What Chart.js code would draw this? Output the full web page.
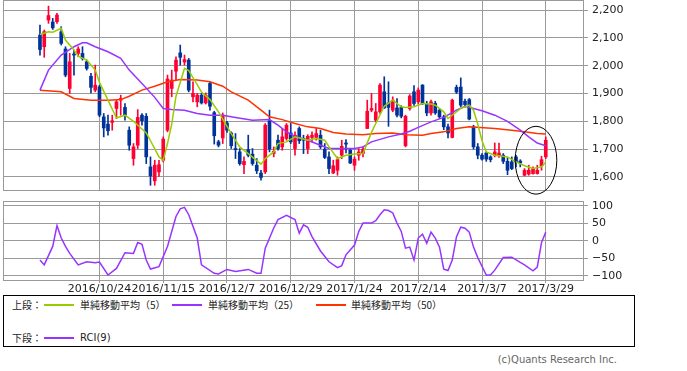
<!DOCTYPE html>
<html lang="ja">
<head>
<meta charset="utf-8">
<title>株価チャート</title>
<script src="https://cdn.jsdelivr.net/npm/chart.js@4.4.1/dist/chart.umd.min.js"></script>
<style>
  body { margin: 0; background: #fff; }
  #page { position: relative; width: 687px; height: 371px; overflow: hidden; font-family: "DejaVu Sans", sans-serif; }
  #mainBox { position: absolute; left: 0; top: 0; width: 687px; height: 195px; }
  #rciBox { position: absolute; left: 0; top: 195px; width: 687px; height: 100px; }
  #legend { position: absolute; left: 3px; top: 295px; width: 630px; height: 50px; border: 1px solid #000;
            font-family: "Noto Sans CJK JP", sans-serif; font-size: 10px; color: #222; }
  .row { position: absolute; left: 8px; width: 600px; height: 14px; line-height: 14px; white-space: nowrap; }
  .txt { position: absolute; top: 0; }
  .swatch { position: absolute; top: 6px; width: 30px; height: 2px; }
  #copy { position: absolute; right: 70px; top: 354px; font-size: 10px; color: #666; font-family: "DejaVu Sans", sans-serif; }
</style>
</head>
<body>
<div id="page">
  <div id="mainBox"><canvas id="mainChart"></canvas></div>
  <div id="rciBox"><canvas id="rciChart"></canvas></div>
  <div id="legend">
    <div class="row" style="top:2px">
      <div class="txt" style="left:0">上段：</div>
      <div class="swatch" style="left:32px;background-color:#99CC00"></div>
      <div class="txt" style="left:68px">単純移動平均（5）</div>
      <div class="swatch" style="left:160px;background-color:#9933FF"></div>
      <div class="txt" style="left:196px">単純移動平均（25）</div>
      <div class="swatch" style="left:304px;background-color:#FF3300"></div>
      <div class="txt" style="left:339px">単純移動平均（50）</div>
    </div>
    <div class="row" style="top:35px">
      <div class="txt" style="left:0">下段：</div>
      <div class="swatch" style="left:32px;background-color:#9933FF"></div>
      <div class="txt" style="left:68px;font-family:'DejaVu Sans',sans-serif">RCI(9)</div>
    </div>
  </div>
  <div id="copy">(c)Quants Research Inc.</div>
</div>

<script>
// daily candles, 2016/10/3 .. 2017/3/29 (index 0..119)
const opens = [2110,2068,2164,2157,2158,2122,2060,1918,2042,2044,2044,2014,1962,1912,1924,1816,1790,1796,1846,1876,
  1850,1768,1666,1714,1822,1818,1636,1586,1618,1660,1768,1918,1980,2046,2013,2020,1888,1870,1894,1866,
  1936,1831,1726,1740,1794,1758,1702,1690,1644,1698,1682,1642,1614,1618,1802,1684,1732,1708,1738,1758,
  1702,1774,1738,1702,1742,1742,1750,1700,1672,1614,1624,1678,1722,1696,1642,1678,1684,1774,1840,1804,
  1834,1906,1866,1840,1848,1850,1712,1846,1906,1870,1930,1864,1830,1864,1840,1816,1780,1742,1922,1923,
  1872,1878,1780,1708,1678,1686,1672,1678,1676,1678,1656,1654,1672,1657,1606,1610,1612,1612,1640,1672]
const highs = [2146,2128,2214,2170,2188,2140,2068,2044,2056,2068,2068,2020,1972,2002,1930,1828,1822,1822,1876,1894,
  1864,1780,1720,1842,1828,1828,1672,1660,1660,1744,1966,1984,2032,2074,2038,2026,1942,1900,1900,1902,
  1942,1836,1732,1830,1800,1762,1756,1702,1672,1750,1702,1666,1624,1792,1840,1708,1750,1774,1792,1792,
  1762,1780,1750,1752,1762,1774,1768,1720,1690,1660,1672,1732,1734,1702,1672,1702,1708,1876,1900,1864,
  1936,1960,1942,1888,1882,1856,1822,1896,1928,1920,1932,1872,1876,1872,1846,1822,1790,1880,1930,1956,
  1880,1882,1786,1720,1684,1690,1676,1722,1722,1684,1668,1672,1678,1662,1630,1642,1636,1642,1674,1744]
const lows = [2038,2030,2152,2130,2152,2074,1960,1900,1966,2032,2020,1984,1902,1906,1816,1744,1750,1768,1810,1822,
  1804,1696,1642,1702,1786,1648,1570,1570,1602,1654,1762,1888,1948,2002,2002,1906,1870,1852,1862,1862,
  1840,1718,1708,1720,1760,1702,1666,1642,1612,1672,1642,1612,1588,1612,1690,1672,1696,1696,1732,1720,
  1678,1720,1684,1684,1726,1732,1702,1666,1612,1612,1606,1666,1686,1648,1624,1660,1672,1774,1834,1798,
  1828,1846,1782,1834,1816,1812,1708,1840,1857,1862,1860,1820,1822,1825,1810,1770,1740,1740,1900,1852,
  1850,1805,1700,1665,1660,1656,1654,1672,1670,1648,1608,1626,1636,1636,1604,1606,1610,1610,1624,1666]
const closes = [2058,2122,2180,2136,2182,2080,1966,2014,2038,2060,2026,1990,1922,1930,1822,1776,1766,1802,1870,1882,
  1822,1714,1708,1814,1802,1672,1604,1642,1644,1736,1952,1948,2020,2030,2022,1912,1900,1894,1866,1894,
  1854,1748,1714,1822,1768,1712,1698,1648,1656,1678,1648,1622,1598,1786,1700,1692,1702,1744,1786,1726,
  1750,1730,1732,1746,1750,1756,1708,1670,1630,1640,1662,1710,1718,1650,1664,1690,1700,1836,1846,1834,
  1930,1848,1850,1876,1822,1818,1818,1891,1864,1912,1864,1830,1870,1830,1816,1780,1758,1876,1905,1858,
  1860,1808,1708,1678,1664,1664,1662,1690,1686,1656,1624,1630,1654,1650,1624,1624,1630,1624,1662,1732]

// moving averages, read at these candle indices
const ma5At = [0,2,3,5,6,8,9,11,13,14,16,18,20,22,25,26,28,29,30,31,32,34,35,37,38,40,42,44,45,47,49,52,53,55,56,58,60,
  63,65,67,68,70,72,74,76,78,79,81,83,85,86,88,90,92,93,95,96,99,101,102,103,104,105,107,110,112,114,116,118,119]
const ma5 = [2112,2122,2120,2134,2092,2056,2034,2020,1984,1940,1876,1812,1822,1800,1758,1730,1672,1660,1720,1790,1890,1990,1982,1932,1905,1878,1834,1782,1756,1708,1684,1646,1666,1690,1720,1726,1744,
  1732,1738,1732,1708,1666,1678,1682,1684,1760,1792,1854,1876,1852,1850,1852,1864,1862,1858,1834,1810,1846,1858,1840,1790,1730,1690,1678,1672,1654,1640,1630,1636,1654]
const ma25At = [0,2,5,8,10,11,13,16,19,21,24,27,29,31,34,37,40,43,46,50,54,56,58,60,63,66,68,71,74,76,78,82,85,87,89,92,95,98,100,102,104,107,110,113,115,117,119]
const ma25 = [1912,1984,2038,2068,2082,2082,2068,2050,2026,1984,1936,1886,1846,1842,1840,1828,1822,1822,1814,1804,1806,1786,1762,1746,1732,1714,1702,1702,1702,1708,1726,1744,1754,1764,1778,1798,1814,1840,1854,1846,1838,1822,1800,1768,1744,1722,1712]
const ma50At = [0,5,8,12,16,19,21,24,27,30,33,37,40,43,45,49,52,54,57,60,63,66,69,72,76,79,83,86,90,92,95,98,101,107,111,114,117,119]
const ma50 = [1912,1906,1882,1876,1876,1878,1890,1912,1926,1942,1950,1948,1942,1926,1906,1876,1840,1816,1806,1792,1780,1774,1760,1754,1752,1756,1758,1752,1750,1756,1762,1774,1780,1774,1768,1762,1756,1754]

// RCI(9)
const rciAt = [0,1,3,4,5,6,7,9,11,13,14,16,18,20,22,23,24,25,26,28,30,32,33,34,35,37,38,41,42,44,46,49,51,52,53,55,56,58,60,61,62,63,64,66,68,70,71,72,
  74,75,76,78,79,80,81,82,83,84,85,86,87,88,89,90,91,92,93,94,95,96,97,98,99,100,101,102,103,105,106,107,109,111,113,114,116,117,118,119]
const rci = [-55,-69,-16,44,8,-16,-36,-69,-60,-63,-61,-98,-79,-34,-36,-5,-10,-55,-81,-74,-16,70,92,96,75,8,-69,-93,-95,-82,-88,-82,-93,-93,-21,37,61,73,61,22,46,39,12,-29,-60,-77,-71,-40,
  -12,27,51,51,58,75,89,87,80,51,27,-21,-18,-55,8,19,-7,25,8,-18,-81,-85,-55,12,39,36,25,-18,-48,-98,-98,-84,-48,-47,-62,-69,-86,-75,-5,25]

const tickAt = [14, 29, 44, 59, 74, 89, 104, 119]
const tickLabels = ["2016/10/24", "2016/11/15", "2016/12/7", "2016/12/29", "2017/1/24", "2017/2/14", "2017/3/7", "2017/3/29"]
const priceTicks = [1600, 1700, 1800, 1900, 2000, 2100, 2200]
const rciTicks = [-100, -50, 0, 50, 100]

// hand-drawn ellipse around the last candles
const mark = { at: 116.7, price: 1660, halfIdx: 4.9, halfPrice: 122 }

const UP = "#FF0033"
const DOWN = "#003399"
const GRID = "#9a9a9a"
const X_MIN = -8.7
const X_MAX = 127.76

const pts = (xs, ys) => xs.map((x, k) => ({ x: x, y: ys[k] }))
const candleColor = (ctx) => closes[ctx.dataIndex] >= opens[ctx.dataIndex] ? UP : DOWN

// gray frame round the plot area
const framePlugin = {
  id: "frame",
  afterDraw(chart) {
    const a = chart.chartArea
    const ctx = chart.ctx
    ctx.save()
    ctx.strokeStyle = GRID
    ctx.lineWidth = 1
    ctx.strokeRect(Math.round(a.left) + 0.5, Math.round(a.top) + 0.5, Math.round(a.right - a.left), Math.round(a.bottom - a.top))
    ctx.restore()
  },
}

const ellipsePlugin = {
  id: "ellipseMark",
  afterDraw(chart) {
    const x = chart.scales.x
    const y = chart.scales.y
    const cx = x.getPixelForValue(mark.at)
    const cy = y.getPixelForValue(mark.price)
    const rx = x.getPixelForValue(mark.at + mark.halfIdx) - cx
    const ry = cy - y.getPixelForValue(mark.price + mark.halfPrice)
    const ctx = chart.ctx
    ctx.save()
    ctx.strokeStyle = "#000"
    ctx.lineWidth = 1
    ctx.beginPath()
    ctx.ellipse(cx, cy, rx, ry, 0, 0, Math.PI * 2)
    ctx.stroke()
    ctx.restore()
  },
}

const xScale = (showLabels) => ({
  type: "linear",
  min: X_MIN,
  max: X_MAX,
  offset: false,
  afterBuildTicks: (s) => { s.ticks = tickAt.map((v) => ({ value: v })) },
  afterFit: (s) => { s.height = showLabels ? 15 : 5; s.paddingLeft = 0; s.paddingRight = 0 },
  grid: { color: GRID, lineWidth: 1, drawTicks: showLabels, tickLength: 3, offset: false },
  border: { display: false },
  ticks: {
    display: showLabels,
    autoSkip: false,
    maxRotation: 0,
    padding: 0,
    color: "#222",
    font: { family: "DejaVu Sans", size: 11 },
    callback: (v) => tickLabels[tickAt.indexOf(v)],
  },
})

const yScale = (min, max, ticks, fmt) => ({
  position: "right",
  min: min,
  max: max,
  afterBuildTicks: (s) => { s.ticks = ticks.map((v) => ({ value: v })) },
  afterFit: (s) => { s.width = 104; s.paddingTop = 0; s.paddingBottom = 0 },
  grid: { color: GRID, lineWidth: 1, tickLength: 5 },
  border: { display: false },
  ticks: { padding: 4, color: "#222", font: { family: "DejaVu Sans", size: 11 }, callback: fmt },
})

new Chart(document.getElementById("mainChart"), {
  type: "bar",
  data: {
    datasets: [
      { type: "line", data: pts(ma5At, ma5), borderColor: "#99CC00", borderWidth: 1.5, pointRadius: 0, order: -3 },
      { type: "line", data: pts(ma25At, ma25), borderColor: "#9933FF", borderWidth: 1.5, pointRadius: 0, order: -2 },
      { type: "line", data: pts(ma50At, ma50), borderColor: "#FF3300", borderWidth: 1.5, pointRadius: 0, order: -1 },
      {
        data: opens.map((o, i) => ({ x: i, y: [o, closes[i]] })),
        backgroundColor: candleColor,
        barThickness: 3,
        minBarLength: 1,
        grouped: false,
        order: 0,
      },
      {
        data: lows.map((l, i) => ({ x: i, y: [l, highs[i]] })),
        backgroundColor: candleColor,
        barThickness: 1,
        grouped: false,
        order: 1,
      },
    ],
  },
  options: {
    animation: false,
    responsive: true,
    maintainAspectRatio: false,
    layout: { padding: { left: 3, top: 0, right: 0, bottom: 0 } },
    plugins: { legend: { display: false }, tooltip: { enabled: false } },
    scales: {
      x: xScale(false),
      y: yScale(1553, 2236, priceTicks, (v) => v.toLocaleString("en-US")),
    },
  },
  plugins: [framePlugin, ellipsePlugin],
})

new Chart(document.getElementById("rciChart"), {
  type: "line",
  data: {
    datasets: [
      { data: pts(rciAt, rci), borderColor: "#9933FF", borderWidth: 1.5, pointRadius: 0 },
    ],
  },
  options: {
    animation: false,
    responsive: true,
    maintainAspectRatio: false,
    layout: { padding: { left: 3, top: 6, right: 0, bottom: 0 } },
    plugins: { legend: { display: false }, tooltip: { enabled: false } },
    scales: {
      x: xScale(true),
      y: yScale(-112.3, 114.3, rciTicks, (v) => (v < 0 ? "\u2212" + Math.abs(v) : String(v))),
    },
  },
  plugins: [framePlugin],
})
</script>
</body>
</html>
